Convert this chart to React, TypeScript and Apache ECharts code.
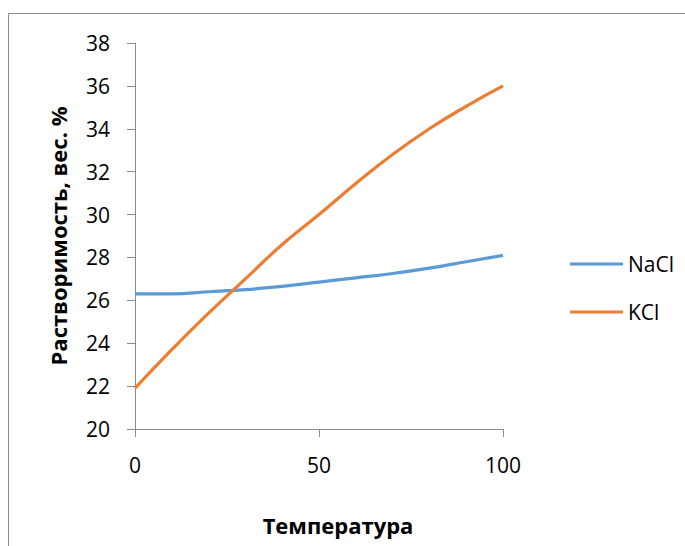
import React, { useEffect, useRef } from "react";
import * as echarts from "echarts";

const temperatures = [0, 10, 20, 30, 40, 50, 60, 70, 80, 90, 100];
const naclValues = [26.3, 26.3, 26.4, 26.5, 26.65, 26.85, 27.05, 27.25, 27.5, 27.8, 28.1];
const kclValues = [21.9, 23.7, 25.4, 27.0, 28.6, 30.0, 31.45, 32.8, 34.0, 35.05, 36.0];
const seriesNames = ["NaCl", "KCl"];
const xTitle = "Температура";
const yTitle = "Растворимость, вес. %";

const FONT = "'Open Sans', 'Liberation Sans', sans-serif";

export default function App() {
  const ref = useRef<HTMLDivElement>(null);
  useEffect(() => {
    if (!ref.current) return;
    const chart = echarts.init(ref.current, undefined, { renderer: "svg" });
    chart.setOption({
      animation: false,
      backgroundColor: "#ffffff",
      textStyle: { fontFamily: FONT },
      graphic: [
        {
          type: "rect",
          shape: { x: 8.5, y: 13.5, width: 700, height: 600 },
          style: { fill: "none", stroke: "#8c8c8c", lineWidth: 1 },
          silent: true,
        },
      ],
      grid: { left: 135, right: 182, top: 43, bottom: 117, outerBoundsMode: "none", containLabel: false },
      legend: {
        orient: "vertical",
        left: 565,
        top: 247,
        itemWidth: 53,
        itemHeight: 3,
        itemGap: 24,
        icon: "rect",
        textStyle: { fontSize: 21, lineHeight: 24, color: "#000", fontFamily: FONT },
        data: seriesNames,
      },
      xAxis: {
        type: "value",
        min: 0,
        max: 100,
        interval: 50,
        name: xTitle,
        nameLocation: "middle",
        nameGap: 85,
        nameTextStyle: {
          fontSize: 22,
          fontWeight: "bold",
          color: "#000",
          fontFamily: FONT,
          padding: [0, 0, 0, 38],
        },
        axisLine: { show: true, lineStyle: { color: "#8c8c8c", width: 1 } },
        axisTick: { show: true, length: 8, lineStyle: { color: "#8c8c8c" } },
        axisLabel: { fontSize: 21, color: "#000", margin: 25, fontFamily: FONT },
        splitLine: { show: false },
      },
      yAxis: {
        type: "value",
        min: 20,
        max: 38,
        interval: 2,
        name: yTitle,
        nameLocation: "middle",
        nameGap: 66,
        nameRotate: 90,
        nameTextStyle: { fontSize: 22, fontWeight: "bold", color: "#000", fontFamily: FONT },
        axisLine: { show: true, lineStyle: { color: "#8c8c8c", width: 1 } },
        axisTick: { show: true, length: 8, lineStyle: { color: "#8c8c8c" } },
        axisLabel: { fontSize: 21, color: "#000", margin: 25, fontFamily: FONT },
        splitLine: { show: false },
      },
      series: [
        {
          name: seriesNames[0],
          type: "line",
          smooth: true,
          showSymbol: false,
          symbol: "none",
          data: temperatures.map((t, i) => [t, naclValues[i]]),
          lineStyle: { color: "#5b9bd5", width: 3.2 },
          itemStyle: { color: "#5b9bd5" },
        },
        {
          name: seriesNames[1],
          type: "line",
          smooth: true,
          showSymbol: false,
          symbol: "none",
          data: temperatures.map((t, i) => [t, kclValues[i]]),
          lineStyle: { color: "#ed7d31", width: 3.2 },
          itemStyle: { color: "#ed7d31" },
        },
      ],
    });
    return () => chart.dispose();
  }, []);
  return (
    <div
      ref={ref}
      style={{ position: "absolute", left: 0, top: 0, width: 685, height: 546 }}
    />
  );
}
